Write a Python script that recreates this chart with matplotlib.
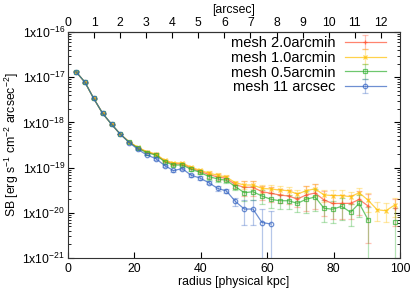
import numpy as np
import matplotlib.pyplot as plt
from matplotlib.colors import to_rgba
from matplotlib.ticker import LogLocator, FixedLocator, NullFormatter, NullLocator

plt.rcParams['font.family'] = ['Liberation Sans', 'DejaVu Sans']
plt.rcParams['mathtext.default'] = 'regular'

nan = np.nan

# radius of the annuli [physical kpc]
radius = [2.4, 5.1, 7.7, 10.4, 13.1, 15.7, 18.4, 21.1, 23.7, 26.4, 29.1, 31.7,
          34.4, 37.1, 39.7, 42.4, 45.1, 47.7, 50.4, 53.1, 55.7, 58.4, 61.1, 63.7,
          66.4, 69.1, 71.7, 74.4, 77.1, 79.7, 82.4, 85.1, 87.7, 90.4, 93.1, 95.7, 98.4]

sb_2arcmin = [1.32e-17, 7.71e-18, 3.41e-18, 1.59e-18, 9.08e-19, 5.53e-19,
              3.68e-19, 2.71e-19, 2.21e-19, 1.95e-19, 1.40e-19, 1.22e-19, 1.21e-19,
              9.70e-20, 8.28e-20, 7.04e-20, 6.19e-20, 5.80e-20, 4.18e-20, 3.67e-20,
              3.67e-20, 2.93e-20, 2.70e-20, 2.48e-20, 2.35e-20, 2.02e-20, 2.48e-20,
              2.74e-20, 1.92e-20, 1.61e-20, 1.61e-20, 1.62e-20, 1.97e-20, 1.41e-20,
              nan, nan, 1.28e-20]
sb_1arcmin = [1.32e-17, 7.71e-18, 3.41e-18, 1.59e-18, 9.08e-19, 5.53e-19,
              3.74e-19, 2.79e-19, 2.27e-19, 2.00e-19, 1.45e-19, 1.28e-19, 1.26e-19,
              1.02e-19, 8.72e-20, 7.59e-20, 6.76e-20, 6.19e-20, 4.63e-20, 4.12e-20,
              4.12e-20, 3.48e-20, 3.36e-20, 3.19e-20, 3.08e-20, 2.60e-20, 3.08e-20,
              3.40e-20, 2.48e-20, 2.41e-20, 2.41e-20, 2.27e-20, 2.78e-20, 1.89e-20,
              1.17e-20, 1.11e-20, 1.49e-20]
sb_05arcmin = [1.32e-17, 7.71e-18, 3.41e-18, 1.59e-18, 9.08e-19, 5.53e-19,
               3.63e-19, 2.67e-19, 2.14e-19, 1.90e-19, 1.35e-19, 1.14e-19, 1.14e-19,
               9.17e-20, 7.87e-20, 6.35e-20, 5.60e-20, 5.24e-20, 3.78e-20, 2.78e-20,
               2.93e-20, 2.35e-20, 1.99e-20, 1.85e-20, 1.85e-20, 1.62e-20, 1.99e-20,
               2.24e-20, 1.26e-20, 1.20e-20, 1.39e-20, 1.03e-20, 1.62e-20, 6.93e-21,
               nan, nan, 6.35e-21]
sb_11arcsec = [1.32e-17, 7.71e-18, 3.41e-18, 1.59e-18, 9.08e-19, 5.53e-19,
               3.59e-19, 2.52e-19, 1.90e-19, 1.59e-19, 1.11e-19, 8.63e-20, 9.46e-20,
               6.76e-20, 5.89e-20, 4.63e-20, 3.45e-20, 3.04e-20, 1.78e-20, 1.21e-20,
               1.21e-20, 6.10e-21, 5.65e-21, nan, nan, nan, nan, nan, nan, nan, nan,
               nan, nan, nan, nan, nan, nan]

# relative errors
relerr_2arcmin = [0.02] * 9 + [0.06] * 6 + [0.15] * 4 + [0.35] * 7 + [0.55] * 7 + [0.85, nan, nan, 0.6]
relerr_1arcmin = [0.02] * 9 + [0.05] * 6 + [0.10] * 4 + [0.20] * 7 + [0.30] * 7 + [0.45] * 4
relerr_05arcmin = [0.02] * 9 + [0.06] * 6 + [0.15] * 4 + [0.35] * 7 + [0.50] * 7 + [0.97, nan, nan, 0.97]
relerr_11arcsec = [0.02] * 9 + [0.05] * 4 + [0.08] * 3 + [0.12] * 2 + [0.2, 0.55, 0.55, 0.95, 0.95] + [nan] * 14

labels = ['mesh 2.0arcmin', 'mesh 1.0arcmin', 'mesh 0.5arcmin', 'mesh 11 arcsec']
colors = ['#ff5030', '#ffc000', '#30b030', '#3060c0']
markers = ['+', 'x', 's', 'o']

kpc_per_arcsec = 7.85
fs = 8.8

fig = plt.figure(figsize=(4.15, 2.91), dpi=100)
ax = fig.add_axes([0.164, 0.1134, 0.8, 0.7766])

series = [sb_2arcmin, sb_1arcmin, sb_05arcmin, sb_11arcsec]
errs = [relerr_2arcmin, relerr_1arcmin, relerr_05arcmin, relerr_11arcsec]
for sb, rel, lab, c, m in zip(series, errs, labels, colors, markers):
    sb = np.array(sb)
    yerr = sb * np.array(rel)
    ax.errorbar(radius, sb, yerr=yerr, label=lab, color=to_rgba(c, 0.7),
                ecolor=to_rgba(c, 0.35), elinewidth=0.9, capsize=2, capthick=0.9,
                marker=m, markersize=3.2, mfc='none', mew=0.9, lw=0.9)

ax.set_yscale('log')
ax.set_ylim(1e-21, 1e-16)
ax.set_xlim(0, 100)
ax.xaxis.set_major_locator(FixedLocator([0, 20, 40, 60, 80, 100]))
ax.xaxis.set_minor_locator(NullLocator())
ax.yaxis.set_minor_locator(LogLocator(base=10, subs=np.arange(2, 10), numticks=20))
ax.yaxis.set_minor_formatter(NullFormatter())
ax.set_yticks([1e-21, 1e-20, 1e-19, 1e-18, 1e-17, 1e-16])
ax.set_yticklabels(['1x10$^{-%d}$' % k for k in [21, 20, 19, 18, 17, 16]])
ax.tick_params(axis='both', which='both', direction='in', labelsize=fs)
ax.tick_params(axis='y', which='both', right=True, pad=2)
ax.tick_params(axis='x', which='both', top=False)
ax.tick_params(which='major', length=4)
ax.tick_params(which='minor', length=2)

sec = ax.secondary_xaxis('top', functions=(lambda x: x / kpc_per_arcsec,
                                           lambda x: x * kpc_per_arcsec))
sec.set_xticks(list(range(13)))
sec.tick_params(direction='in', labelsize=fs, length=4, pad=2)
sec.set_xlabel('[arcsec]', fontsize=fs, labelpad=3)

for sp in list(ax.spines.values()) + list(sec.spines.values()):
    sp.set_color('#333333')

ax.set_xlabel('radius [physical kpc]', fontsize=fs, labelpad=1)
ax.set_ylabel('SB [erg s$^{-1}$ cm$^{-2}$ arcsec$^{-2}$]', fontsize=fs, labelpad=1)

ax.legend(loc='upper right', bbox_to_anchor=(0.965, 0.995), frameon=False,
          markerfirst=False, fontsize=10.5, handlelength=2.8, labelspacing=0.05,
          handletextpad=0.6, borderaxespad=0.0, borderpad=0.2)

fig.savefig('out.png', dpi=100)
